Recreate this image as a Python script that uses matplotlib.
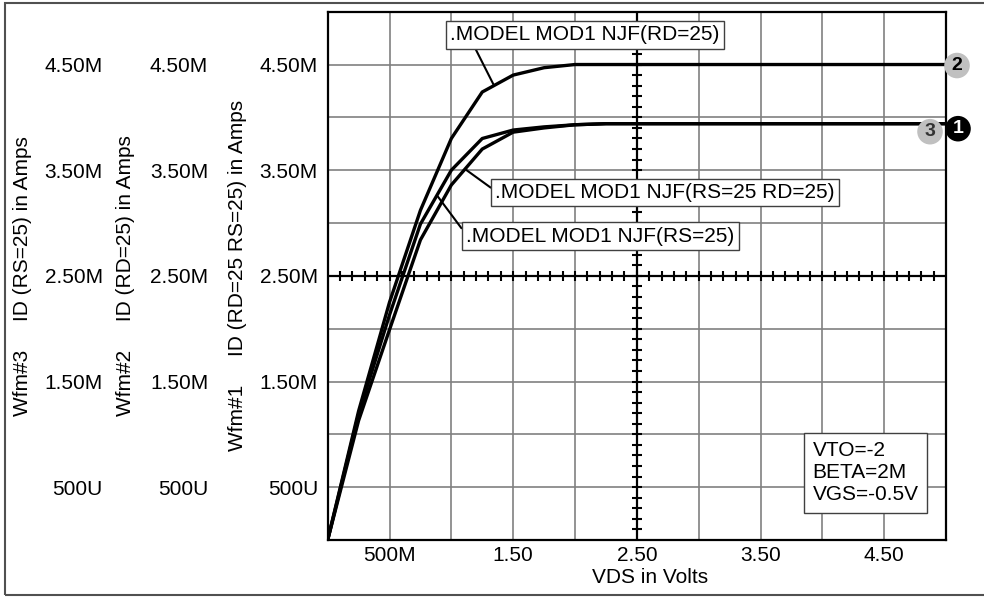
import matplotlib
matplotlib.use("Agg")
import matplotlib.pyplot as plt
import numpy as np
from matplotlib.patches import Rectangle

plt.rcParams["font.family"] = ["Liberation Sans", "DejaVu Sans"]
plt.rcParams["font.size"] = 15

# VDS sweep (V) and drain currents (mA)
vds = [0.0, 0.25, 0.5, 0.75, 1.0, 1.25, 1.5, 1.75, 2.0, 2.25, 2.5,
       2.75, 3.0, 3.25, 3.5, 3.75, 4.0, 4.25, 4.5, 4.75, 5.0]
id_rsrd = [0.0, 1.13, 1.99, 2.84, 3.36, 3.70, 3.86, 3.90, 3.93, 3.94, 3.94,
           3.94, 3.94, 3.94, 3.94, 3.94, 3.94, 3.94, 3.94, 3.94, 3.94]   # Wfm#1
id_rd = [0.0, 1.22, 2.25, 3.12, 3.80, 4.24, 4.40, 4.47, 4.50, 4.50, 4.50,
         4.50, 4.50, 4.50, 4.50, 4.50, 4.50, 4.50, 4.50, 4.50, 4.50]     # Wfm#2
id_rs = [0.0, 1.19, 2.13, 2.99, 3.50, 3.80, 3.88, 3.91, 3.93, 3.94, 3.94,
         3.94, 3.94, 3.94, 3.94, 3.94, 3.94, 3.94, 3.94, 3.94, 3.94]     # Wfm#3

x_ticks = [0.5, 1.5, 2.5, 3.5, 4.5]
x_ticklabels = ["500M", "1.50", "2.50", "3.50", "4.50"]
y_ticks = [0.5, 1.5, 2.5, 3.5, 4.5]
y_ticklabels = ["500U", "1.50M", "2.50M", "3.50M", "4.50M"]

fig = plt.figure(figsize=(9.84, 5.97), dpi=100)
ax = fig.add_axes([0.3330, 0.0955, 0.6284, 0.8849])
ax.set_xlim(0, 5)
ax.set_ylim(0, 5)

# grid every 0.5
ax.set_xticks([1, 2, 3, 4], minor=True)
ax.set_yticks([1, 2, 3, 4], minor=True)
ax.set_xticks(x_ticks, x_ticklabels)
ax.set_yticks(y_ticks, y_ticklabels)
ax.grid(which="both", color="#808080", lw=1.2)
ax.tick_params(which="both", length=0)
ax.tick_params(axis="x", pad=4)
ax.tick_params(axis="y", pad=7)
for s in ax.spines.values():
    s.set_linewidth(1.6)
    s.set_zorder(5)

# crosshair with 0.1 ticks
ax.axhline(2.5, color="black", lw=1.6, zorder=3)
ax.axvline(2.5, color="black", lw=1.6, zorder=3)
fine = np.arange(0.1, 5.0, 0.1)
ax.plot(fine, np.full_like(fine, 2.5), ls="none", marker="|", ms=7, mew=1.5, color="black", zorder=3)
ax.plot(np.full_like(fine, 2.5), fine, ls="none", marker="_", ms=7, mew=1.5, color="black", zorder=3)

ax.plot(vds, id_rs, color="black", lw=2.4, zorder=4)
ax.plot(vds, id_rd, color="black", lw=2.4, zorder=4)
ax.plot(vds, id_rsrd, color="black", lw=2.4, zorder=4)

# waveform markers at the right end
def marker(num, x, y, dx, dy, fc, tc, z):
    ax.annotate(num, xy=(x, y), xytext=(dx, dy), textcoords="offset pixels",
                ha="center", va="center", fontsize=14, fontweight="bold", color=tc,
                bbox=dict(boxstyle="circle,pad=0.22", fc=fc, ec="none"),
                annotation_clip=False, zorder=z)

marker("3", vds[-1], id_rs[-1], -16, -8, "#c0c0c0", "#333333", 6)
marker("1", vds[-1], id_rsrd[-1], 12, -5, "black", "white", 7)
marker("2", vds[-1], id_rd[-1], 11, -1, "#c0c0c0", "black", 6)

# model labels with leader lines
box = dict(boxstyle="square,pad=0.2", fc="white", ec="#404040", lw=1)
ax.annotate(".MODEL MOD1 NJF(RD=25)", xy=(1.343, 4.306), xytext=(2.079, 4.78),
            ha="center", va="center", bbox=box, zorder=8,
            arrowprops=dict(arrowstyle="-", color="black", lw=1.5, relpos=(0.086, 0), shrinkA=0, shrinkB=0))
ax.annotate(".MODEL MOD1 NJF(RS=25 RD=25)", xy=(1.121, 3.502), xytext=(2.728, 3.289),
            ha="center", va="center", bbox=box, zorder=8,
            arrowprops=dict(arrowstyle="-", color="black", lw=1.5, relpos=(0, 0.58), shrinkA=0, shrinkB=0))
ax.annotate(".MODEL MOD1 NJF(RS=25)", xy=(0.892, 3.249), xytext=(2.204, 2.877),
            ha="center", va="center", bbox=box, zorder=8,
            arrowprops=dict(arrowstyle="-", color="black", lw=1.5, relpos=(0, 0.58), shrinkA=0, shrinkB=0))

ax.text(3.92, 0.634, "VTO=-2\nBETA=2M\nVGS=-0.5V", ha="left", va="center", zorder=8,
        bbox=dict(boxstyle="square,pad=0.42", fc="white", ec="#404040", lw=1))

ax.set_xlabel("VDS in Volts")
ax.xaxis.set_label_coords(0.521, -0.053)
ax.set_ylabel("Wfm#1     ID (RD=25 RS=25) in Amps")
ax.yaxis.set_label_coords(-0.1305, 0.5)

# extra y axes for Wfm#2 and Wfm#3
for off, lab, lx in [(79, "Wfm#2     ID (RD=25) in Amps", -0.3114),
                     (155, "Wfm#3     ID (RS=25) in Amps", -0.4785)]:
    tw = ax.twinx()
    tw.set_ylim(0, 5)
    tw.yaxis.set_ticks_position("left")
    tw.yaxis.set_label_position("left")
    tw.spines["left"].set_position(("outward", off))
    for s in tw.spines.values():
        s.set_visible(False)
    tw.set_yticks(y_ticks, y_ticklabels)
    tw.tick_params(length=0, pad=7)
    tw.set_ylabel(lab)
    tw.yaxis.set_label_coords(lx, 0.5)

fig.patches.append(Rectangle((5 / 984, 2 / 597), 1.2, 592 / 597, transform=fig.transFigure,
                             fill=False, ec="#505050", lw=1.5))

fig.savefig("out.png", dpi=100)
